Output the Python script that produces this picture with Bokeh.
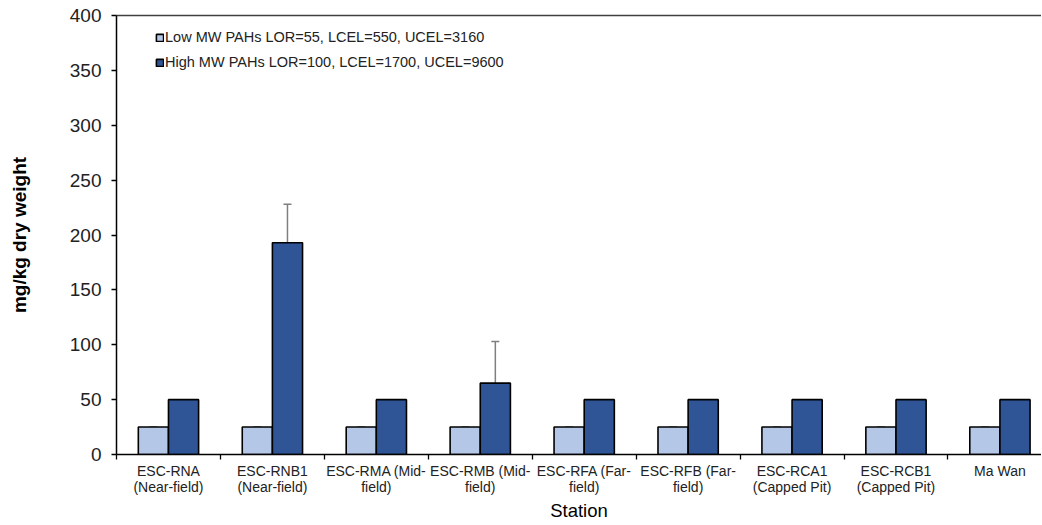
import numpy as np
from bokeh.plotting import figure
from bokeh.models import (ColumnDataSource, Range1d, FixedTicker, LinearAxis, Legend,
                          LegendItem, Whisker, TeeHead)
from bokeh.embed import file_html
from bokeh.resources import INLINE

# ---- data ----
stations = ["ESC-RNA\n(Near-field)", "ESC-RNB1\n(Near-field)", "ESC-RMA (Mid-\nfield)",
            "ESC-RMB (Mid-\nfield)", "ESC-RFA (Far-\nfield)", "ESC-RFB (Far-\nfield)",
            "ESC-RCA1\n(Capped Pit)", "ESC-RCB1\n(Capped Pit)", "Ma Wan"]
low_mw = [25, 25, 25, 25, 25, 25, 25, 25, 25]
low_mw_err = [0, 0, 0, 0, 0, 0, 0, 0, 0]
high_mw = [50, 193, 50, 65, 50, 50, 50, 50, 50]
high_mw_err = [0, 35, 0, 38, 0, 0, 0, 0, 0]
series_names = ["Low MW PAHs LOR=55, LCEL=550, UCEL=3160",
                "High MW PAHs LOR=100, LCEL=1700, UCEL=9600"]
y_ticks = [0, 50, 100, 150, 200, 250, 300, 350, 400]

FONT = "Liberation Sans"
LIGHT = "#B4C7E7"
DARK = "#2F5597"

n = len(stations)
idx = np.arange(n)
bw = 0.29
centers = idx + 0.5

src_low = ColumnDataSource(dict(x=centers - bw / 2, top=low_mw,
                                upper=np.array(low_mw) + np.array(low_mw_err)))
src_high = ColumnDataSource(dict(x=centers + bw / 2, top=high_mw,
                                 upper=np.array(high_mw) + np.array(high_mw_err)))

# the reference's plot area runs slightly past the right edge of the image
p = figure(width=1041, height=524, output_backend="svg", toolbar_location=None,
           x_range=Range1d(0, n - 0.1), y_range=Range1d(0, 400),
           min_border_left=116, min_border_right=0, min_border_top=15, min_border_bottom=0)
p.outline_line_color = None
p.xgrid.visible = False
p.ygrid.visible = False
p.background_fill_color = "white"

r_low = p.vbar(x="x", top="top", width=bw, source=src_low, fill_color=LIGHT,
               line_color="black", line_width=1.6)
r_high = p.vbar(x="x", top="top", width=bw, source=src_high, fill_color=DARK,
                line_color="black", line_width=1.6)

for s in (src_low, src_high):
    w = Whisker(source=s, base="x", lower="top", upper="upper", dimension="height",
                line_color="#7F7F7F", line_width=1.5,
                upper_head=TeeHead(size=8, line_color="#7F7F7F", line_width=1.5),
                lower_head=None)
    p.add_layout(w)

# x axis: labels at centers, separator ticks at category boundaries
xa = p.xaxis[0]
xa.ticker = FixedTicker(ticks=list(centers), minor_ticks=list(range(n + 1)))
xa.major_label_overrides = {float(c): s for c, s in zip(centers, stations)}
xa.major_tick_out = 0
xa.major_tick_in = 0
xa.minor_tick_out = 5
xa.minor_tick_in = 0
xa.minor_tick_line_color = "black"
xa.minor_tick_line_width = 1.3
xa.axis_line_color = "black"
xa.axis_line_width = 1.5
xa.major_label_text_font = FONT
xa.major_label_text_font_size = "14px"
xa.major_label_text_line_height = 1.05
xa.major_label_text_color = "#222222"
xa.major_label_standoff = 3
xa.axis_label = "Station"
xa.axis_label_text_font = FONT
xa.axis_label_text_font_size = "18.5px"
xa.axis_label_text_font_style = "normal"
xa.axis_label_text_color = "black"
xa.axis_label_standoff = 2

ya = p.yaxis[0]
ya.ticker = FixedTicker(ticks=y_ticks)
ya.major_tick_out = 5
ya.major_tick_in = 0
ya.minor_tick_out = 0
ya.minor_tick_in = 0
ya.major_tick_line_color = "black"
ya.major_tick_line_width = 1.3
ya.axis_line_color = "black"
ya.axis_line_width = 1.5
ya.major_label_text_font = FONT
ya.major_label_text_font_size = "19px"
ya.major_label_text_color = "#222222"
ya.major_label_standoff = 10
ya.axis_label = "mg/kg dry weight"
ya.axis_label_text_font = FONT
ya.axis_label_text_font_size = "19px"
ya.axis_label_text_font_style = "bold"
ya.axis_label_text_color = "black"
ya.axis_label_standoff = 37

# top border line
top_axis = LinearAxis(ticker=FixedTicker(ticks=[]), major_tick_out=0, major_tick_in=0,
                      minor_tick_out=0, minor_tick_in=0, major_label_standoff=0,
                      axis_line_color="#404040", axis_line_width=1.5)
p.add_layout(top_axis, "above")

legend = Legend(items=[LegendItem(label=series_names[0], renderers=[r_low]),
                       LegendItem(label=series_names[1], renderers=[r_high])],
                location=(39, 384), orientation="vertical",
                glyph_width=9, glyph_height=9, label_height=15, spacing=9,
                label_standoff=1, padding=0, margin=0,
                label_text_font=FONT, label_text_font_size="14.5px",
                label_text_color="#222222",
                border_line_color=None, background_fill_alpha=0)
p.add_layout(legend)

open("out.html", "w").write(file_html(p, INLINE))
